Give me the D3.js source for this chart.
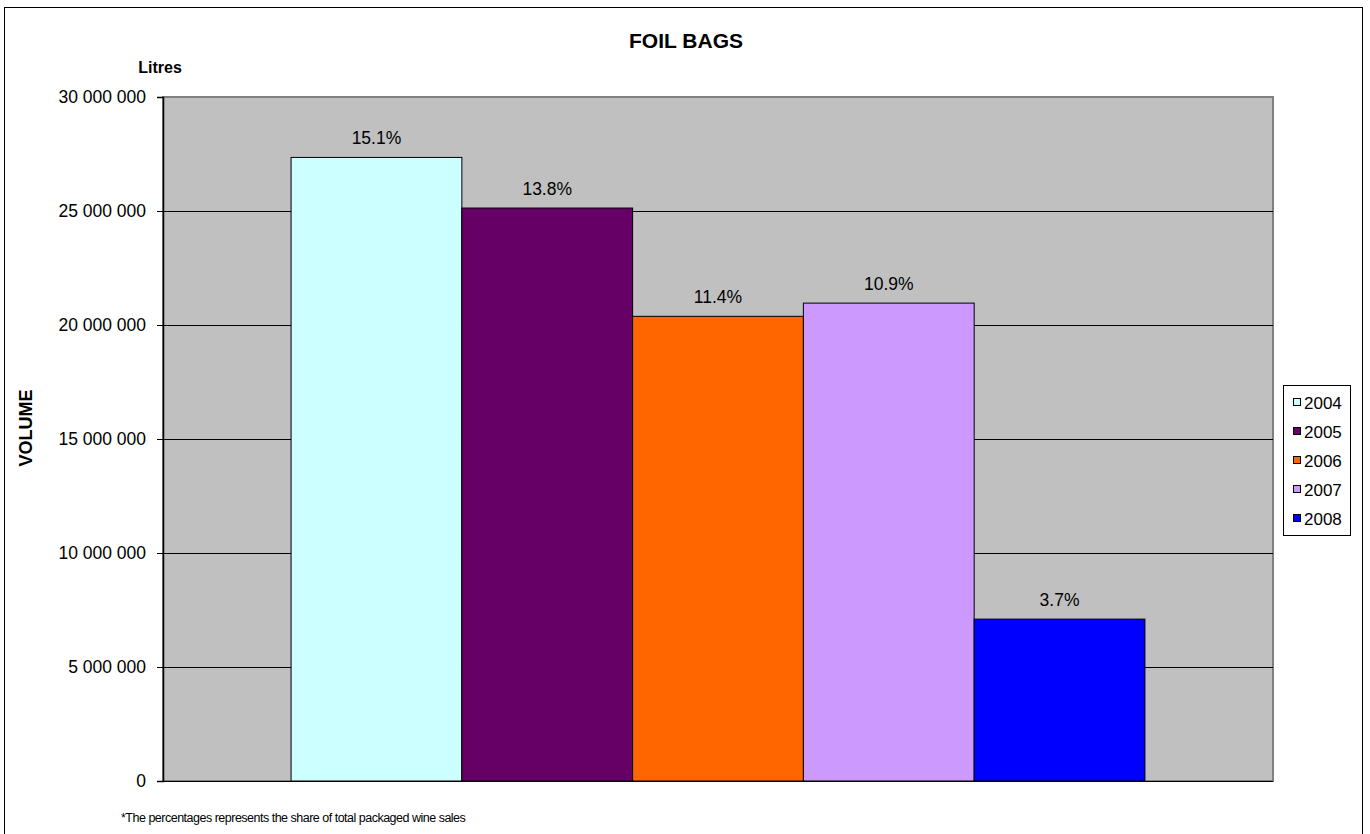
<!DOCTYPE html>
<html>
<head>
<meta charset="utf-8">
<script src="https://cdn.jsdelivr.net/npm/d3@7"></script>
<style>
  html, body { margin: 0; padding: 0; background: #fff; }
  svg { display: block; font-family: "Liberation Sans", Arial, sans-serif; }
</style>
</head>
<body>
<svg id="chart" width="1370" height="834"></svg>
<script>
// Foil bag wine volumes (litres) by year, with share of total packaged wine sales
const years = ["2004", "2005", "2006", "2007", "2008"];
const volumes = [27350000, 25130000, 20380000, 20960000, 7100000];
const shares = ["15.1%", "13.8%", "11.4%", "10.9%", "3.7%"];
const colors = ["#CCFFFF", "#660066", "#FF6600", "#CC99FF", "#0000FF"];
const yTicks = [0, 5000000, 10000000, 15000000, 20000000, 25000000, 30000000];

const svg = d3.select("#chart");

// outer frame
svg.append("rect")
  .attr("x", 4.5).attr("y", 7.5).attr("width", 1358).attr("height", 832)
  .attr("fill", "#fff").attr("stroke", "#000").attr("stroke-width", 1);

const plot = { left: 163, top: 97, right: 1273, bottom: 781 };

const y = d3.scaleLinear().domain([0, 30000000]).range([plot.bottom, plot.top]);

// one category band, five bars with a 150% gap
const band = d3.scaleBand().domain(["Foil bags"]).range([plot.left, plot.right]).paddingInner(0).paddingOuter(0);
const groupWidth = band.bandwidth() / (1 + 1.5 / years.length);
const x = d3.scaleBand().domain(years)
  .range([band("Foil bags") + (band.bandwidth() - groupWidth) / 2,
          band("Foil bags") + (band.bandwidth() + groupWidth) / 2])
  .padding(0);

// plot area background
svg.append("rect")
  .attr("x", plot.left).attr("y", plot.top)
  .attr("width", plot.right - plot.left).attr("height", plot.bottom - plot.top)
  .attr("fill", "#C0C0C0").attr("stroke", "#808080").attr("stroke-width", 2);

// gridlines
svg.append("g").selectAll("line")
  .data(yTicks.filter(d => d > 0 && d < 30000000))
  .join("line")
  .attr("x1", plot.left).attr("x2", plot.right)
  .attr("y1", d => Math.round(y(d)) + 0.5).attr("y2", d => Math.round(y(d)) + 0.5)
  .attr("stroke", "#000").attr("stroke-width", 1);

// bars
svg.append("g").selectAll("rect")
  .data(years)
  .join("rect")
  .attr("x", d => x(d))
  .attr("y", (d, i) => y(volumes[i]))
  .attr("width", x.bandwidth())
  .attr("height", (d, i) => plot.bottom - y(volumes[i]))
  .attr("fill", (d, i) => colors[i])
  .attr("stroke", "#000").attr("stroke-width", 1);

// value labels
svg.append("g").selectAll("text")
  .data(years)
  .join("text")
  .attr("x", d => x(d) + x.bandwidth() / 2)
  .attr("y", (d, i) => y(volumes[i]) - 13)
  .attr("text-anchor", "middle")
  .attr("font-size", 17.5).attr("fill", "#000")
  .text((d, i) => shares[i]);

// y axis
const fmt = d => d3.format(",")(d).replace(/,/g, " ");
const yAxis = d3.axisLeft(y).tickValues(yTicks).tickFormat(fmt).tickSizeOuter(0).tickSize(6).tickPadding(11);
const gy = svg.append("g").attr("transform", `translate(${plot.left},0)`).call(yAxis);
gy.select(".domain").attr("stroke", "#000").attr("stroke-width", 1.5);
gy.selectAll(".tick line").attr("stroke", "#000");
gy.selectAll(".tick text").attr("font-size", 17.5).attr("fill", "#000")
  .attr("font-family", "'Liberation Sans', Arial, sans-serif");

// bottom axis line
svg.append("line")
  .attr("x1", plot.left - 6).attr("x2", plot.right)
  .attr("y1", plot.bottom + 0.5).attr("y2", plot.bottom + 0.5)
  .attr("stroke", "#000").attr("stroke-width", 1);

// title and axis labels
svg.append("text").attr("x", 686).attr("y", 48).attr("text-anchor", "middle")
  .attr("font-size", 21).attr("font-weight", "bold").text("FOIL BAGS");
svg.append("text").attr("x", 160).attr("y", 73).attr("text-anchor", "middle")
  .attr("font-size", 16).attr("font-weight", "bold").text("Litres");
svg.append("text").attr("transform", "translate(32,428) rotate(-90)").attr("text-anchor", "middle")
  .attr("font-size", 18).attr("font-weight", "bold").text("VOLUME");

// footnote
svg.append("text").attr("x", 121).attr("y", 822)
  .attr("font-size", 12.5).attr("letter-spacing", -0.5)
  .text("*The percentages represents the share of total packaged wine sales");

// legend
const legend = svg.append("g");
legend.append("rect")
  .attr("x", 1283.5).attr("y", 385.5).attr("width", 67).attr("height", 150)
  .attr("fill", "#fff").attr("stroke", "#000").attr("stroke-width", 1);
const items = legend.selectAll("g.item").data(years).join("g")
  .attr("class", "item")
  .attr("transform", (d, i) => `translate(1293, ${402 + i * 29})`);
items.append("rect").attr("x", 0.5).attr("y", -3.5).attr("width", 7).attr("height", 7)
  .attr("fill", (d, i) => colors[i]).attr("stroke", "#000").attr("stroke-width", 1);
items.append("text").attr("x", 11).attr("y", 7).attr("font-size", 17).text(d => d);
</script>
</body>
</html>
